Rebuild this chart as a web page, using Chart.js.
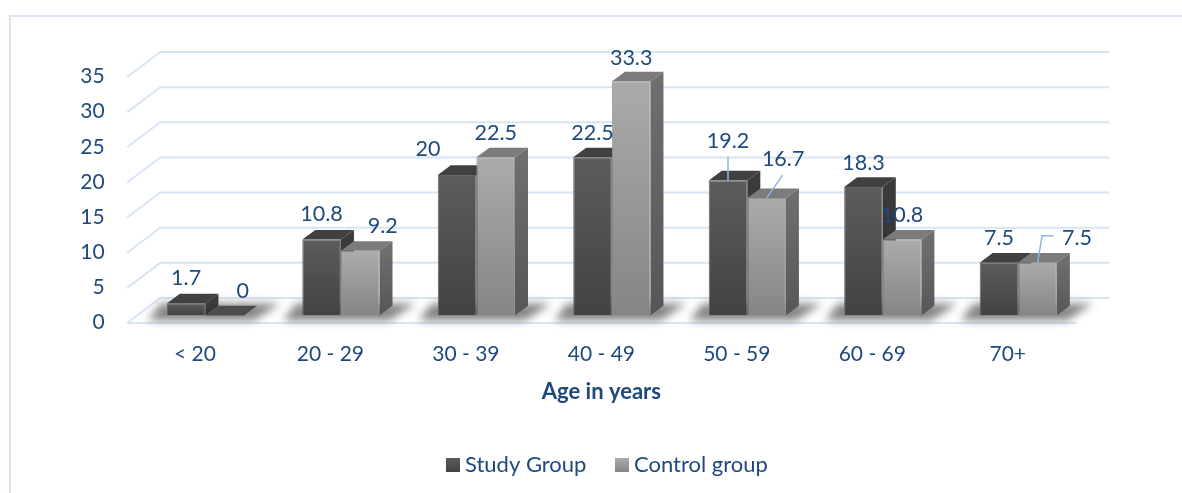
<!DOCTYPE html>
<html>
<head>
<meta charset="utf-8">
<title>Age distribution</title>
<script src="https://cdn.jsdelivr.net/npm/chart.js@4"></script>
<style>
    html, body { margin: 0; padding: 0; background: #fff; }
    #wrap { width: 1182px; height: 493px; }
</style>
</head>
<body>
<div id="wrap"><canvas id="ageChart" width="1182" height="493"></canvas></div>
<script>
const ageGroups = ['< 20', '20 - 29', '30 - 39', '40 - 49', '50 - 59', '60 - 69', '70+'];
const studyGroup = [1.7, 10.8, 20, 22.5, 19.2, 18.3, 7.5];
const controlGroup = [0, 9.2, 22.5, 33.3, 16.7, 10.8, 7.5];
const yTicks = [0, 5, 10, 15, 20, 25, 30, 35];

const FONT = 'Lato, Carlito, Calibri, sans-serif';
const TEXT_COLOR = '#1f497d';
const GRID_COLOR = '#d9e4f4';
const LEADER_COLOR = '#8fb4e3';
const DEPTH_X = 13, DEPTH_Y = 9.7;

const looks = [
    { front: ['#5c5c5c', '#424242'], top: '#404040', side: ['#3b3b3b', '#2f2f2f'], edge: '#646464' },
    { front: ['#ababab', '#858585'], top: '#7b7b7b', side: ['#6e6e6e', '#565656'], edge: '#959595' }
];

// label offset from the bar's top centre, plus an optional leader line
const labelSpots = [
    [
        { dx: 0, dy: -26 }, { dx: 0, dy: -26 }, { dx: -29, dy: -26 }, { dx: 0, dy: -25 },
        { dx: 0, dy: -40, leader: [[0, -24], [0, 0]] },
        { dx: 0, dy: -24 }, { dx: 0, dy: -25 }
    ],
    [
        { dx: 18, dy: -25 }, { dx: 22.5, dy: -25 }, { dx: 0, dy: -25 }, { dx: 0, dy: -24 },
        { dx: 16.5, dy: -40, leader: [[16, -23], [0, 0]] },
        { dx: 0, dy: -25 },
        { dx: 39.5, dy: -25, leader: [[0, 0], [4.5, -27], [16, -27]] }
    ]
];

function frontFill(seriesIdx) {
    return function(context) {
        const look = looks[seriesIdx];
        const y = context.chart.scales.y;
        if (context.type !== 'data' || !y) return look.front[0];
        const top = y.getPixelForValue(context.raw), bottom = y.getPixelForValue(0);
        if (!isFinite(top) || !isFinite(bottom)) return look.front[0];
        const g = context.chart.ctx.createLinearGradient(0, top, 0, bottom);
        g.addColorStop(0, look.front[0]);
        g.addColorStop(1, look.front[1]);
        return g;
    };
}

// frame, back wall gridlines and the floor edge
const wallPlugin = {
    id: 'wall',
    beforeDatasetsDraw(chart) {
        const { ctx, scales: { x, y } } = chart;
        ctx.save();
        ctx.strokeStyle = GRID_COLOR;
        ctx.lineWidth = 2;
        ctx.beginPath();
        ctx.moveTo(10, 493);
        ctx.lineTo(10, 16);
        ctx.lineTo(1182, 16);
        ctx.stroke();

        const left = x.left - 10.5, right = x.right - 9.5;
        yTicks.forEach(v => {
            const py = y.getPixelForValue(v) + 7.5;
            ctx.beginPath();
            ctx.moveTo(left, py);
            ctx.lineTo(left + 33, py - 25);
            ctx.lineTo(right + 33, py - 25);
            ctx.stroke();
        });
        const floorY = y.getPixelForValue(0) + 7.5;
        ctx.beginPath();
        ctx.moveTo(left, floorY);
        ctx.lineTo(right, floorY);
        ctx.stroke();

        // soft shadow under each pair of bars
        const base = y.getPixelForValue(0);
        const first = chart.getDatasetMeta(0).data, second = chart.getDatasetMeta(1).data;
        ctx.filter = 'blur(4px)';
        ctx.fillStyle = '#858585';
        first.forEach((bar, i) => {
            const l = bar.x - bar.width / 2;
            const r = second[i].x + second[i].width / 2;
            ctx.beginPath();
            ctx.moveTo(l - 19, base + 5);
            ctx.lineTo(l - 6, base - 12);
            ctx.lineTo(r + 36, base - 12);
            ctx.lineTo(r + 10, base + 5);
            ctx.closePath();
            ctx.fill();
        });
        ctx.restore();
    }
};

// top and side faces of every bar; the library paints the front faces afterwards
const depthPlugin = {
    id: 'depth',
    beforeDatasetsDraw(chart) {
        const { ctx } = chart;
        ctx.save();
        chart.data.datasets.forEach((ds, s) => {
            const look = looks[s];
            chart.getDatasetMeta(s).data.forEach((bar, i) => {
                const l = bar.x - bar.width / 2, r = bar.x + bar.width / 2;
                const t = bar.y, b = bar.base;

                const g = ctx.createLinearGradient(0, t, 0, b + 1);
                g.addColorStop(0, look.side[0]);
                g.addColorStop(1, look.side[1]);
                ctx.fillStyle = g;
                ctx.beginPath();
                ctx.moveTo(r, t);
                ctx.lineTo(r + DEPTH_X, t - DEPTH_Y);
                ctx.lineTo(r + DEPTH_X, b - DEPTH_Y);
                ctx.lineTo(r, b);
                ctx.closePath();
                ctx.fill();

                // an empty bar is just a dark patch on the floor
                ctx.fillStyle = ds.data[i] === 0 ? '#4c4c4c' : look.top;
                ctx.beginPath();
                ctx.moveTo(l, t);
                ctx.lineTo(l + DEPTH_X, t - DEPTH_Y);
                ctx.lineTo(r + DEPTH_X, t - DEPTH_Y);
                ctx.lineTo(r, t);
                ctx.closePath();
                ctx.fill();
            });
        });
        ctx.restore();
    }
};

const annotationsPlugin = {
    id: 'annotations',
    afterDraw(chart) {
        const { ctx, scales: { x } } = chart;
        ctx.save();
        ctx.textAlign = 'center';
        ctx.textBaseline = 'middle';

        chart.data.datasets.forEach((ds, s) => {
            chart.getDatasetMeta(s).data.forEach((bar, i) => {
                const spot = labelSpots[s][i];
                if (spot.leader) {
                    ctx.strokeStyle = LEADER_COLOR;
                    ctx.lineWidth = 1.5;
                    ctx.beginPath();
                    spot.leader.forEach((p, k) => {
                        if (k === 0) ctx.moveTo(bar.x + p[0], bar.y + p[1]);
                        else ctx.lineTo(bar.x + p[0], bar.y + p[1]);
                    });
                    ctx.stroke();
                }
                ctx.fillStyle = TEXT_COLOR;
                ctx.font = '21.5px ' + FONT;
                ctx.fillText(String(ds.data[i]), bar.x + spot.dx, bar.y + spot.dy + 0.5);
            });
        });

        // axis title, centred on the floor rather than on the bars
        ctx.font = 'bold 22px ' + FONT;
        ctx.fillText('Age in years', (x.left + x.right) / 2 - 10.5, 392);

        // legend
        ctx.textAlign = 'left';
        ctx.font = '22px ' + FONT;
        let lx = 446;
        const ly = 465;
        chart.data.datasets.forEach((ds, s) => {
            const g = ctx.createLinearGradient(0, ly - 7, 0, ly + 7);
            g.addColorStop(0, looks[s].front[0]);
            g.addColorStop(1, looks[s].front[1]);
            ctx.fillStyle = g;
            ctx.fillRect(lx, ly - 7, 14, 14);
            ctx.fillStyle = TEXT_COLOR;
            ctx.fillText(ds.label, lx + 19, ly);
            lx += 169;
        });
        ctx.restore();
    }
};

new Chart(document.getElementById('ageChart'), {
    type: 'bar',
    data: {
        labels: ageGroups,
        datasets: [
            {
                label: 'Study Group',
                data: studyGroup,
                backgroundColor: frontFill(0),
                borderColor: looks[0].edge,
                borderWidth: 1
            },
            {
                label: 'Control group',
                data: controlGroup,
                backgroundColor: frontFill(1),
                borderColor: looks[1].edge,
                borderWidth: 1
            }
        ]
    },
    plugins: [wallPlugin, depthPlugin, annotationsPlugin],
    options: {
        responsive: false,
        animation: false,
        categoryPercentage: 0.57,
        barPercentage: 1,
        layout: { padding: { left: 9.7, right: 96, top: 69.5, bottom: 117.5 } },
        plugins: {
            legend: { display: false },
            tooltip: { enabled: false }
        },
        scales: {
            x: {
                grid: { display: false, drawTicks: false },
                border: { display: false },
                ticks: {
                    autoSkip: false,
                    maxRotation: 0,
                    padding: 26,
                    labelOffset: -10.5,
                    color: TEXT_COLOR,
                    font: { family: FONT, size: 21 }
                },
                afterFit(scale) { scale.height = 60; }
            },
            y: {
                min: 0,
                max: 35,
                grid: { display: false, drawTicks: false },
                border: { display: false },
                ticks: {
                    stepSize: 5,
                    padding: 33,
                    labelOffset: 7,
                    color: TEXT_COLOR,
                    font: { family: FONT, size: 21 }
                },
                afterFit(scale) { scale.width = 128; }
            }
        }
    }
});
</script>
</body>
</html>
